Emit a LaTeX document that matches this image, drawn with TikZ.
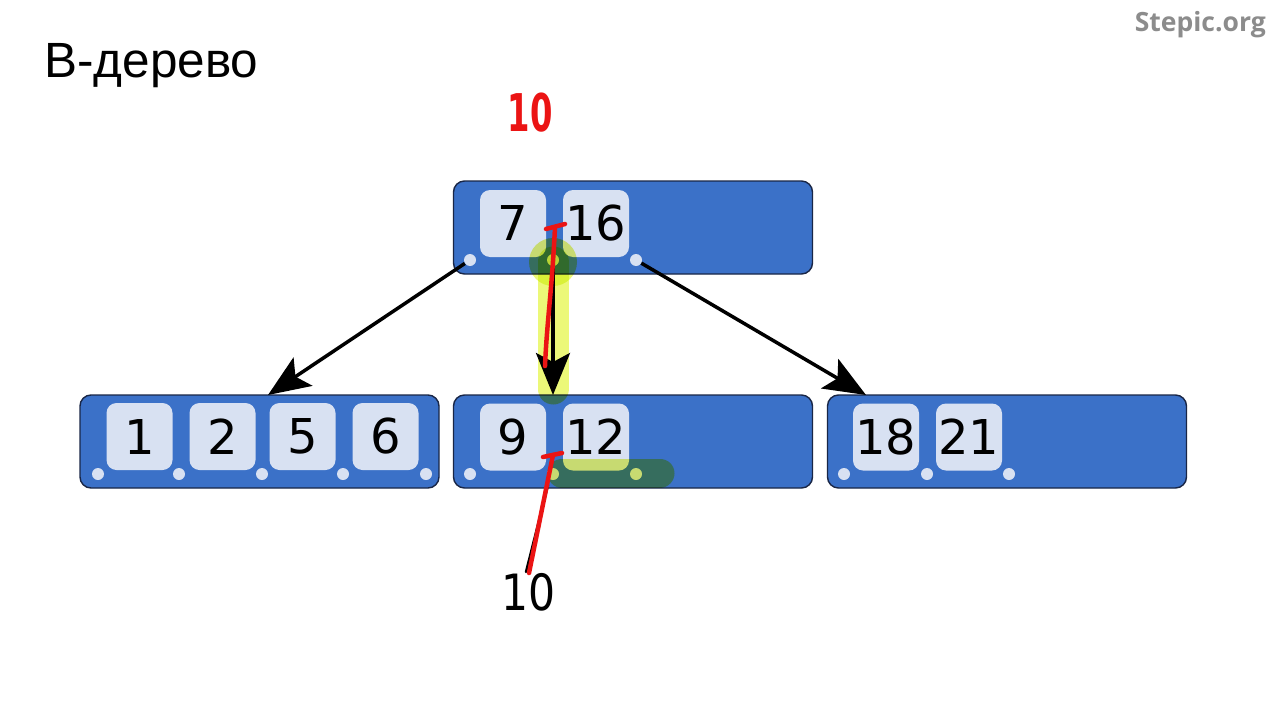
\documentclass[tikz,border=0pt]{standalone}
\usepackage{fontspec}
\setmainfont{DejaVu Sans}
\newfontfamily\titlefont{Liberation Sans}
\newfontfamily\logofont{Open Sans}
\usetikzlibrary{arrows.meta}
\definecolor{nodeblue}{RGB}{59,113,200}
\definecolor{nodeedge}{RGB}{25,38,70}
\definecolor{keyfill}{RGB}{216,225,242}
\definecolor{hl}{RGB}{236,248,120}
\definecolor{logogray}{RGB}{140,140,140}
\definecolor{pen}{RGB}{235,20,20}
\tikzset{
  bnode/.style={draw=nodeedge, line width=1.4pt, fill=nodeblue, rounded corners=11pt, minimum width=359pt, minimum height=93pt, inner sep=0pt},
  keybox/.style={fill=keyfill, rounded corners=10pt, minimum width=66pt, minimum height=67pt, inner sep=0pt, font=\fontsize{48}{52}\selectfont},
  ptr/.style={circle, fill=keyfill, minimum size=12pt, inner sep=0pt},
  link/.style={line width=3.5pt, -{Stealth[length=42pt,width=34pt,inset=9pt]}},
  hlstroke/.style={draw=hl, line cap=round},
  penstroke/.style={draw=pen, line width=4.5pt, line cap=round, line join=round},
}
\begin{document}
\begin{tikzpicture}[x=1pt,y=-1pt]
\useasboundingbox (0,0) rectangle (1280,720);
\fill[white] (0,0) rectangle (1280,720);
% title and logo
\node[anchor=base west, font=\titlefont\fontsize{49.5}{50}\selectfont, inner sep=0pt] (title) at (44,77) {В-дерево};
\node[anchor=base east, text=logogray, font=\logofont\bfseries\fontsize{26.5}{27}\selectfont, inner sep=0pt] (logo) at (1266,31) {Stepic.org};
% B-tree nodes
\node[bnode] (T) at (633,227.5) {};
\node[bnode] (L) at (259.5,441.5) {};
\node[bnode] (M) at (633,441.5) {};
\node[bnode] (R) at (1007,441.5) {};
% keys
\node[keybox] (k7) at (513,223.5) {7};
\node[keybox] (k16) at (596,223.5) {16};
\node[keybox] (k1) at (139.5,436.5) {1};
\node[keybox] (k2) at (222.5,436.5) {2};
\node[keybox] (k5) at (302.5,436.5) {5};
\node[keybox] (k6) at (385.5,436.5) {6};
\node[keybox] (k9) at (513,437) {9};
\node[keybox] (k12) at (596,437) {12};
\node[keybox] (k18) at (886,437) {18};
\node[keybox] (k21) at (969,437) {21};
% pointer dots
\node[ptr] (t0) at (470,260) {};
\node[ptr] (t1) at (553,260) {};
\node[ptr] (t2) at (636,260) {};
\node[ptr] (l0) at (98,474) {};
\node[ptr] (l1) at (179,474) {};
\node[ptr] (l2) at (262,474) {};
\node[ptr] (l3) at (343,474) {};
\node[ptr] (l4) at (426,474) {};
\node[ptr] (m0) at (470,474) {};
\node[ptr] (m1) at (553,474) {};
\node[ptr] (m2) at (636,474) {};
\node[ptr] (r0) at (844,474) {};
\node[ptr] (r1) at (927,474) {};
\node[ptr] (r2) at (1009,474) {};
% arrow targets
\coordinate (aL) at (268,395);
\coordinate (aM) at (553,395);
\coordinate (aR) at (866,395);
\draw[link] (t0) -- (aL);
\draw[link] (t1) -- (aM);
\draw[link] (t2) -- (aR);
% highlighter
\begin{scope}[blend mode=multiply]
  \fill[hl] (553,262) circle[radius=24pt];
  \draw[hlstroke, line width=31pt] (553,262) -- (553,389);
  \draw[hlstroke, line width=29pt] (562,473) -- (660,473);
\end{scope}
% pen marks
\coordinate (p1) at (546,229);
\coordinate (p2) at (565,224);
\coordinate (p3) at (555,227);
\coordinate (p4) at (545,366);
\draw[penstroke] (p1) -- (p2);
\draw[penstroke] (p3) .. controls (552,290) and (547,320) .. (p4);
\coordinate (q1) at (543,457);
\coordinate (q2) at (562,453);
\coordinate (q3) at (553,455);
\coordinate (q4) at (529,573);
\coordinate (q5) at (548,485);
\coordinate (q6) at (526,572);
\draw[line width=2.5pt, line cap=round] (q5) -- (q6);
\draw[penstroke] (q1) -- (q2);
\draw[penstroke] (q3) -- (q4);
% handwritten numbers
\node[text=pen, font=\bfseries\fontsize{52}{52}\selectfont, xscale=0.62, inner sep=0pt] (n10a) at (530,113) {10};
\node[font=\fontsize{50}{50}\selectfont, xscale=0.85, inner sep=0pt] (n10b) at (529,592) {10};
\end{tikzpicture}
\end{document}
